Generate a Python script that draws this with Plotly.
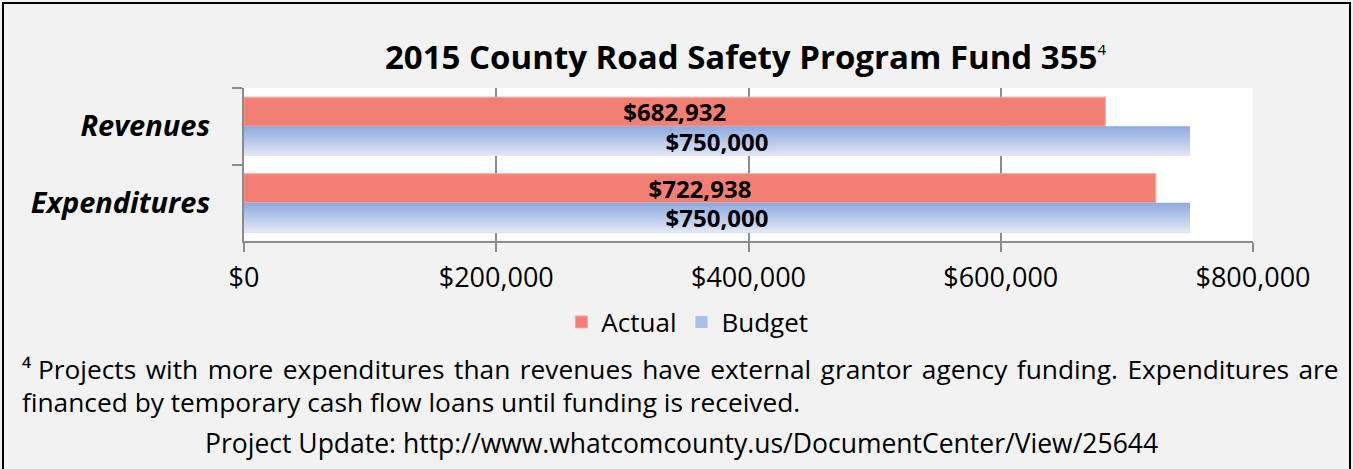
import plotly.graph_objects as go

W, H = 1353, 469

# Data
categories = ["Revenues", "Expenditures"]
actual = [682932, 722938]
budget = [750000, 750000]
x_ticks = [0, 200000, 400000, 600000, 800000]

title_text = "2015 County Road Safety Program Fund 355"
note_line1 = ("Projects with more expenditures than revenues have external grantor "
              "agency funding. Expenditures are")
note_line2 = "financed by temporary cash flow loans until funding is received."
note_line3 = "Project Update: http://www.whatcomcounty.us/DocumentCenter/View/25644"

FONT = "Open Sans"
BG = "#f2f2f2"
AXIS_GRAY = "#8c8c8c"
ACTUAL_COLOR = "#f27f73"
BUDGET_TOP = (143, 171, 224)
BUDGET_BOTTOM = (223, 230, 245)
BAR_W = 0.39


def money(v):
    return "${:,.0f}".format(v)


def px_x(p):
    return p / W


def px_y(p):
    return 1 - p / H


fig = go.Figure()

# Actual bars (upper half of each category slot)
fig.add_trace(go.Bar(
    y=categories, x=actual, orientation="h", name="Actual",
    marker=dict(color=ACTUAL_COLOR, line=dict(color="#f7a8a0", width=1)),
    offset=-0.38, width=0.38,
    text=[money(v) for v in actual], textposition="inside",
    insidetextanchor="middle", textangle=0, constraintext="none",
    textfont=dict(family=FONT, size=24, color="black", weight="bold"),
    hoverinfo="skip",
))

# Budget bars: nested layers, each starting lower and drawn on top,
# so the visible strips form a vertical gradient without seams
n_bands = 16
band_w = BAR_W / n_bands
for i in range(n_bands):
    t = i / (n_bands - 1)
    c = tuple(round(a + (b - a) * t) for a, b in zip(BUDGET_TOP, BUDGET_BOTTOM))
    fig.add_trace(go.Bar(
        y=categories, x=budget, orientation="h",
        name="Budget", legendgroup="budget",
        showlegend=(i == n_bands // 2 - 3),
        marker=dict(color="rgb(%d,%d,%d)" % c, line=dict(width=0)),
        offset=i * band_w, width=BAR_W - i * band_w,
        hoverinfo="skip",
    ))

# Budget value labels
fig.add_trace(go.Bar(
    y=categories, x=budget, orientation="h", showlegend=False,
    marker=dict(color="rgba(0,0,0,0)", line=dict(width=0)),
    offset=0, width=BAR_W,
    text=[money(v) for v in budget], textposition="inside",
    insidetextanchor="middle", textangle=0, constraintext="none",
    textfont=dict(family=FONT, size=24, color="black", weight="bold"),
    hoverinfo="skip",
))

fig.update_layout(
    width=W, height=H,
    template="none",
    barmode="overlay",
    paper_bgcolor=BG,
    plot_bgcolor="white",
    margin=dict(l=0, r=0, t=0, b=0),
    font=dict(family=FONT, color="black"),
    showlegend=True,
    legend=dict(
        orientation="h", x=0.508, xanchor="center",
        y=px_y(322), yanchor="middle",
        font=dict(family=FONT, size=26, color="black"),
        bgcolor="rgba(0,0,0,0)", traceorder="normal",
        itemwidth=30,
    ),
    xaxis=dict(
        domain=[px_x(244), px_x(1253)],
        range=[0, 800000], tickvals=x_ticks,
        ticktext=[money(v) for v in x_ticks],
        showgrid=True, gridcolor=AXIS_GRAY, gridwidth=2,
        showline=True, linecolor=AXIS_GRAY, linewidth=2,
        ticks="outside", ticklen=9, tickwidth=2, tickcolor=AXIS_GRAY,
        ticklabelstandoff=3,
        tickfont=dict(family=FONT, size=27, color="black"),
        zeroline=False, automargin=False, fixedrange=True,
    ),
    yaxis=dict(
        domain=[px_y(241), px_y(88)],
        autorange="reversed", type="category",
        showgrid=False,
        showline=True, linecolor=AXIS_GRAY, linewidth=2,
        ticks="outside", tickson="boundaries", ticklen=10,
        tickwidth=2, tickcolor=AXIS_GRAY,
        ticklabelstandoff=26,
        tickfont=dict(family=FONT, size=29, color="black",
                      weight="bold", style="italic"),
        zeroline=False, automargin=False, fixedrange=True,
    ),
)

# Title
fig.add_annotation(
    x=px_x(745), y=px_y(56), xref="paper", yref="paper",
    xanchor="center", yanchor="middle", showarrow=False,
    text=title_text + "<sup><span style='font-size:15px;font-weight:normal'>4</span></sup>",
    font=dict(family=FONT, size=33, color="black", weight="bold"),
)

# Footnote (first line widened with hair spaces to fill the box width)
line1 = "\u2074 " + note_line1.replace(" ", " \u200a")
fig.add_annotation(
    x=px_x(20), y=px_y(369), xref="paper", yref="paper",
    xanchor="left", yanchor="middle", showarrow=False,
    text=line1, font=dict(family=FONT, size=26.3, color="black"),
)
fig.add_annotation(
    x=px_x(20), y=px_y(402), xref="paper", yref="paper",
    xanchor="left", yanchor="middle", showarrow=False,
    text=note_line2, font=dict(family=FONT, size=26.3, color="black"),
)
fig.add_annotation(
    x=px_x(681), y=px_y(443), xref="paper", yref="paper",
    xanchor="center", yanchor="middle", showarrow=False,
    text=note_line3, font=dict(family=FONT, size=26.5, color="black"),
)

# Outer frame
fig.add_shape(
    type="rect", xref="paper", yref="paper",
    x0=px_x(3), x1=px_x(1350), y0=-0.05, y1=px_y(3),
    line=dict(color="black", width=2), fillcolor="rgba(0,0,0,0)",
    layer="above",
)

fig.write_html("out.html", config={"displayModeBar": False})
